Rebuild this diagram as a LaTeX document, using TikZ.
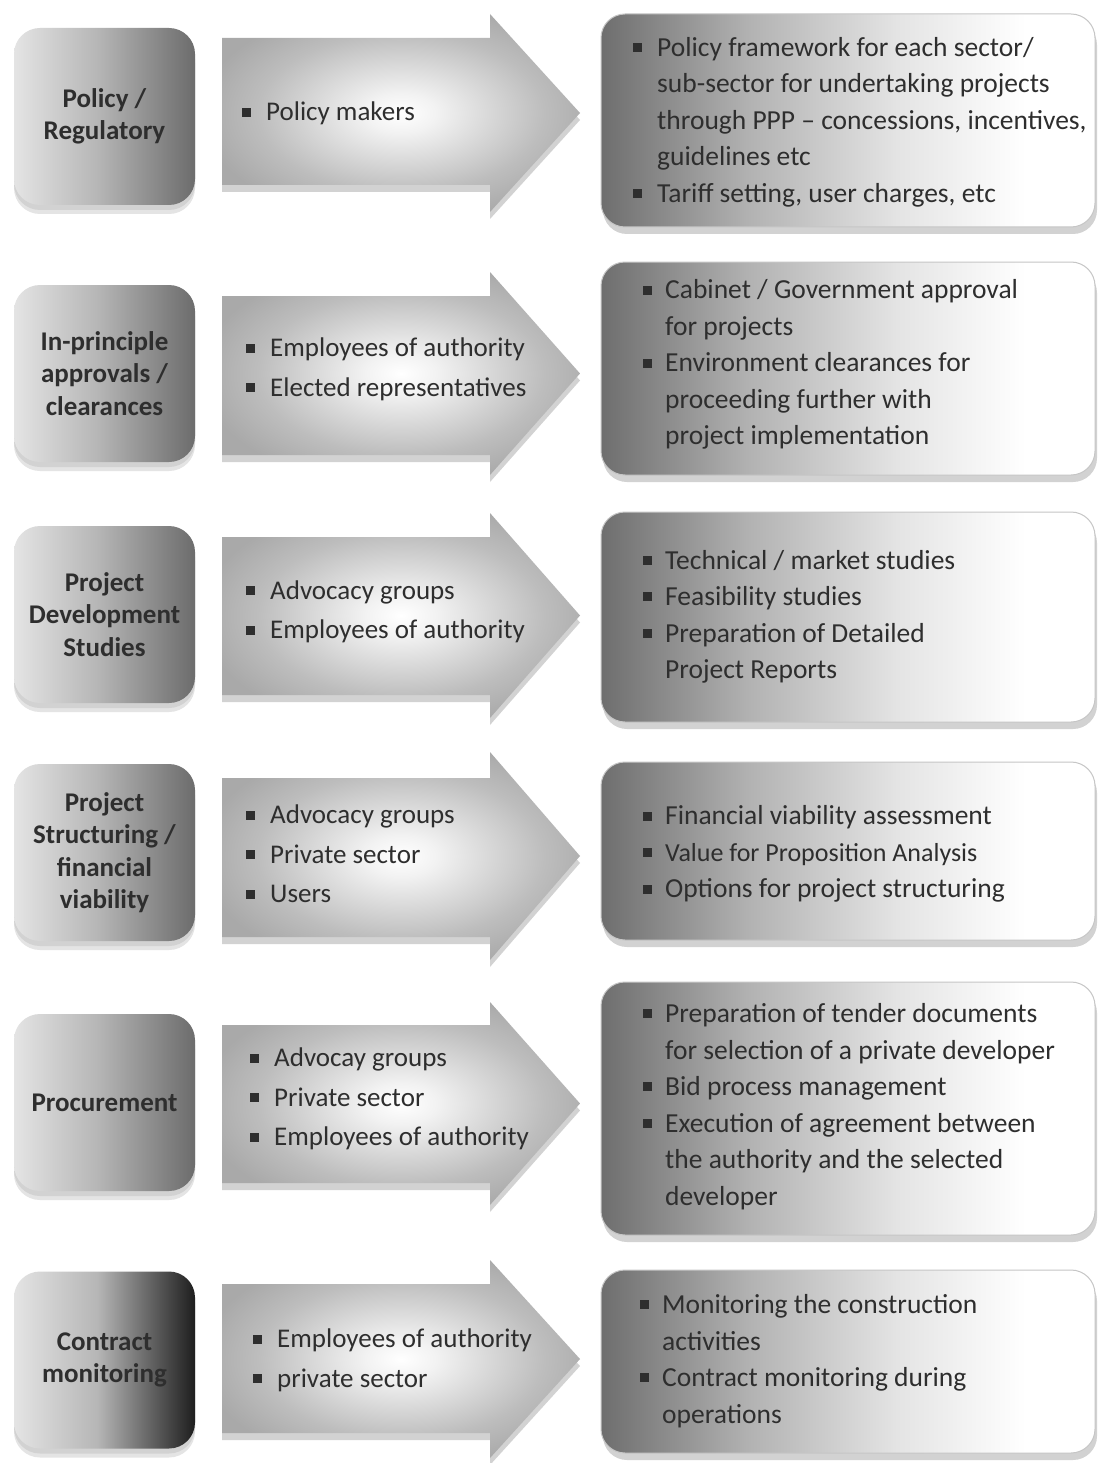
\documentclass[tikz,border=0pt]{standalone}
\usepackage{fontspec}
\setmainfont{Carlito}
\usetikzlibrary{shadows}

% palette
\definecolor{txt}{HTML}{2E2E2E}
\definecolor{stA}{HTML}{E4E4E4}
\definecolor{stB}{HTML}{B6B6B6}
\definecolor{stC}{HTML}{6C6C6C}
\definecolor{stD}{HTML}{1E1E1E}
\definecolor{tkA}{HTML}{6E6E6E}
\definecolor{tkB}{HTML}{B2B2B2}
\definecolor{tkC}{HTML}{E4E4E4}
\definecolor{gwA}{HTML}{F2F2F2}
\definecolor{gwB}{HTML}{BDBDBD}
\definecolor{gwC}{HTML}{A9A9A9}
\definecolor{rim}{HTML}{C6C6C6}
\definecolor{shd}{HTML}{D2D2D2}

% shadings
\pgfdeclarehorizontalshading{stagefill}{100bp}{color(0bp)=(stA); color(25bp)=(stA); color(48bp)=(stB); color(75bp)=(stC); color(100bp)=(stC)}
\pgfdeclarehorizontalshading{stagefilldark}{100bp}{color(0bp)=(stA); color(25bp)=(stA); color(48bp)=(stB); color(75bp)=(stD); color(100bp)=(stD)}
\pgfdeclarehorizontalshading{taskfill}{100bp}{color(0bp)=(tkA); color(25bp)=(tkA); color(40bp)=(tkB); color(55bp)=(tkC); color(68bp)=(white); color(100bp)=(white)}
\pgfdeclareradialshading{glow}{\pgfpoint{0bp}{0bp}}{color(0bp)=(white); color(5bp)=(gwA); color(20bp)=(gwB); color(28bp)=(gwC); color(100bp)=(gwC)}

\tikzset{
  stage/.style={rectangle, rounded corners=26pt, shading=stagefill, inner sep=0pt,
    minimum width=181pt, minimum height=177pt, text=txt, align=center,
    font=\bfseries\fontsize{27}{32.5}\selectfont,
    drop shadow={shadow xshift=0pt, shadow yshift=-9pt, fill=shd, opacity=0.6},
    drop shadow={shadow xshift=0pt, shadow yshift=-5pt, fill=shd, opacity=1}},
  stagedark/.style={stage, shading=stagefilldark},
  task/.style={rectangle, rounded corners=24pt, shading=taskfill, draw=rim, line width=1pt,
    inner sep=0pt, minimum width=494pt,
    drop shadow={shadow xshift=2pt, shadow yshift=-7pt, fill=shd, opacity=1}},
  who/.style={anchor=west, inner sep=0pt, text=txt, font=\fontsize{27}{39.5}\selectfont},
  what/.style={anchor=west, inner sep=0pt, text=txt, font=\fontsize{27.5}{36.5}\selectfont},
}

% bullet column for the lists
\newcommand\bsq{\makebox[24pt][l]{\raisebox{0.15em}{\rule{9pt}{9pt}}}}
\newcommand\bsqw{\makebox[22pt][l]{\raisebox{0.15em}{\rule{9pt}{9pt}}}}

% wide block arrow: body top, body bottom, head top, head bottom
\newcommand\blockarrow[4]{%
  \fill[shd, shift={(0,7)}] (222,#1) -- (490,#1) -- (490,#3) -- (580,{(#3+#4)/2}) -- (490,#4) -- (490,#2) -- (222,#2) -- cycle;
  \shade[shading=glow] (222,#1) -- (490,#1) -- (490,#3) -- (580,{(#3+#4)/2}) -- (490,#4) -- (490,#2) -- (222,#2) -- cycle;
}

\begin{document}
\begin{tikzpicture}[x=1pt, y=-1pt]
\useasboundingbox (0,0) rectangle (1099,1463);
\fill[white] (0,0) rectangle (1099,1463);

% ---------- Policy / Regulatory ----------
\node[stage] (s1) at (104.5,116.5) {Policy /\\Regulatory};
\blockarrow{38}{185}{14}{212}
\node[who] (w1) at (242,113) {\begin{tabular}{@{}l@{}l@{}}\bsq & Policy makers\end{tabular}};
\node[task, minimum height=213pt] (t1) at (848,120.5) {};
\node[what] (d1) at (633,122) {\begin{tabular}{@{}l@{}l@{}}
\bsq & Policy framework for each sector/\\
 & sub-sector for undertaking projects\\
 & through PPP -- concessions, incentives,\\
 & guidelines etc\\
\bsq & Tariff setting, user charges, etc
\end{tabular}};

% ---------- In-principle approvals ----------
\node[stage] (s2) at (104.5,373.5) {In-principle\\approvals /\\clearances};
\blockarrow{296}{455}{272}{475}
\node[who] (w2) at (246,368.5) {\begin{tabular}{@{}l@{}l@{}}\bsq & Employees of authority\\ \bsq & Elected representatives\end{tabular}};
\node[task, minimum height=213pt] (t2) at (848,368.5) {};
\node[what] (d2) at (643,364.5) {\begin{tabular}{@{}l@{}l@{}}
\bsqw & Cabinet / Government approval\\
 & for projects\\
\bsqw & Environment clearances for\\
 & proceeding further with\\
 & project implementation
\end{tabular}};

% ---------- Project Development Studies ----------
\node[stage] (s3) at (104.5,614.5) {Project\\Development\\Studies};
\blockarrow{537}{695}{513}{718}
\node[who] (w3) at (246,611) {\begin{tabular}{@{}l@{}l@{}}\bsq & Advocacy groups\\ \bsq & Employees of authority\end{tabular}};
\node[task, minimum height=210pt] (t3) at (848,617) {};
\node[what] (d3) at (643,616.5) {\begin{tabular}{@{}l@{}l@{}}
\bsqw & Technical / market studies\\
\bsqw & Feasibility studies\\
\bsqw & Preparation of Detailed\\
 & Project Reports
\end{tabular}};

% ---------- Project Structuring ----------
\node[stage] (s4) at (104.5,852.5) {Project\\Structuring /\\financial\\viability};
\blockarrow{778}{937}{752}{960}
\node[who] (w4) at (246,855.5) {\begin{tabular}{@{}l@{}l@{}}\bsq & Advocacy groups\\ \bsq & Private sector\\ \bsq & Users\end{tabular}};
\node[task, minimum height=178pt] (t4) at (848,851) {};
\node[what] (d4) at (643,854) {\begin{tabular}{@{}l@{}l@{}}
\bsqw & Financial viability assessment\\
\bsqw & {\fontsize{26}{30}\selectfont Value for Proposition Analysis}\\
\bsqw & Options for project structuring
\end{tabular}};

% ---------- Procurement ----------
\node[stage] (s5) at (104.5,1102.5) {Procurement};
\blockarrow{1025}{1183}{1002}{1205}
\node[who] (w5) at (250,1098.5) {\begin{tabular}{@{}l@{}l@{}}\bsq & Advocay groups\\ \bsq & Private sector\\ \bsq & Employees of authority\end{tabular}};
\node[task, minimum height=253pt] (t5) at (848,1108.5) {};
\node[what] (d5) at (643,1106.5) {\begin{tabular}{@{}l@{}l@{}}
\bsqw & Preparation of tender documents\\
 & for selection of a private developer\\
\bsqw & Bid process management\\
\bsqw & Execution of agreement between\\
 & the authority and the selected\\
 & developer
\end{tabular}};

% ---------- Contract monitoring ----------
\node[stagedark] (s6) at (104.5,1360) {Contract\\monitoring};
\blockarrow{1284}{1433}{1260}{1458}
\node[who] (w6) at (253,1359.5) {\begin{tabular}{@{}l@{}l@{}}\bsq & Employees of authority\\ \bsq & private sector\end{tabular}};
\node[task, minimum height=183pt] (t6) at (848,1361.5) {};
\node[what] (d6) at (640,1361) {\begin{tabular}{@{}l@{}l@{}}
\bsqw & Monitoring the construction\\
 & activities\\
\bsqw & Contract monitoring during\\
 & operations
\end{tabular}};
\end{tikzpicture}
\end{document}
